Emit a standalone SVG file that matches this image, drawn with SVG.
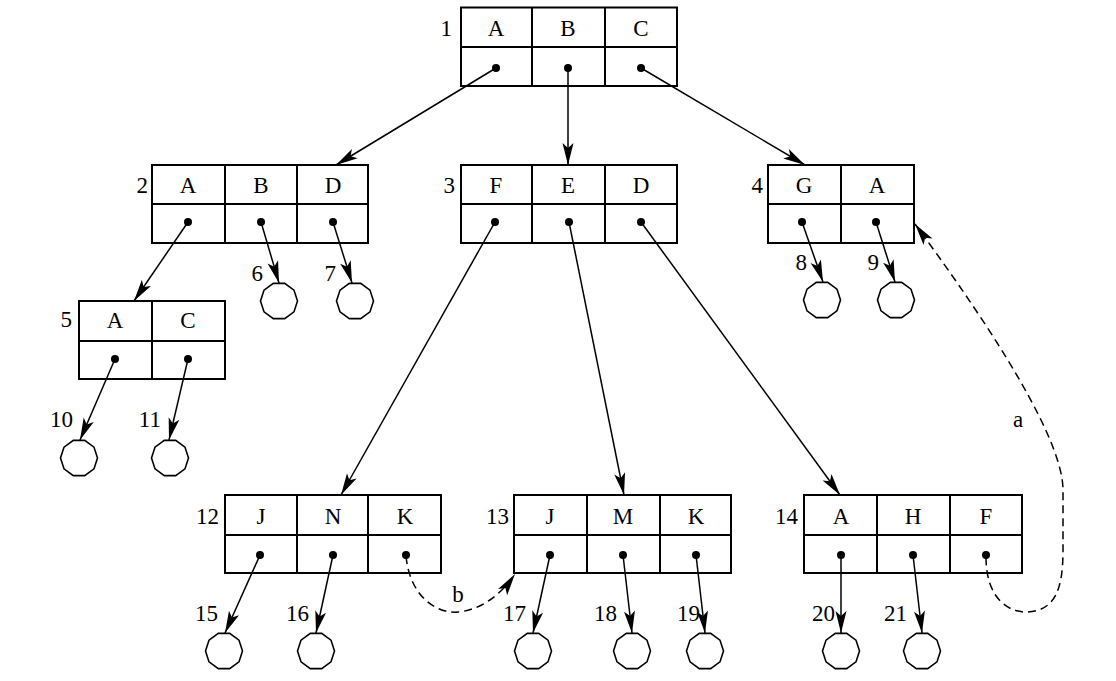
<svg xmlns="http://www.w3.org/2000/svg" xmlns:xlink="http://www.w3.org/1999/xlink" width="1116" height="681" viewBox="0 0 1116 681" font-family="Liberation Serif, Times New Roman, serif">
<style>
.box{fill:none;stroke:#000;stroke-width:2}
text{font-family:"Liberation Serif","Times New Roman",Times,serif;font-size:23px;fill:#000}
.m{text-anchor:middle}
.e{text-anchor:end}
.dot{fill:#000}
.ar{fill:none;stroke:#000;stroke-width:1.5;marker-end:url(#ah)}
.da{fill:none;stroke:#000;stroke-width:1.5;stroke-dasharray:8 5;marker-end:url(#ah)}
.leaf{fill:#fff;stroke:#000;stroke-width:1.6}
</style>
<defs>
<marker id="ah" viewBox="-23 -7 24 14" refX="0" refY="0" markerWidth="24" markerHeight="14" markerUnits="userSpaceOnUse" orient="auto">
<path d="M0,0 L-22,-5.5 L-17,0 L-22,5.5 Z" fill="#000"/>
</marker>
<polygon id="c" class="leaf" points="18.5,0 14.97,10.88 5.72,17.59 -5.72,17.59 -14.97,10.88 -18.5,0 -14.97,-10.88 -5.72,-17.59 5.72,-17.59 14.97,-10.88"/>
</defs>
<rect width="1116" height="681" fill="#fff"/>

<g id="connectors">
<path class="ar" d="M496,68 L336,165"/>
<path class="ar" d="M568,68 L568,165"/>
<path class="ar" d="M641,68 L805,165"/>
<path class="ar" d="M188,222 L134,301"/>
<path class="ar" d="M261,222 L279,283"/>
<path class="ar" d="M333,222 L352,283"/>
<path class="ar" d="M115,359 L80,440"/>
<path class="ar" d="M188,359 L169,440"/>
<path class="ar" d="M495,222 L341,495"/>
<path class="ar" d="M569,222 L624,495"/>
<path class="ar" d="M641,222 L840,495"/>
<path class="ar" d="M802,222 L823,282"/>
<path class="ar" d="M876,222 L895,282"/>
<path class="ar" d="M260,555 L225,633"/>
<path class="ar" d="M333,555 L316,633"/>
<path class="ar" d="M550,555 L533,633"/>
<path class="ar" d="M623,555 L632,633"/>
<path class="ar" d="M696,555 L705,633"/>
<path class="ar" d="M841,555 L841,633"/>
<path class="ar" d="M913,555 L922,633"/>
<path class="da" d="M406,556 C410,598 438,614 458,612 C480,610 500,596 515,574"/>
<path class="da" d="M986,557 C986,600 1010,613 1028,612 C1055,610 1063,590 1063,550 L1063,490 C1063,430 965,292 915,224"/>
<text class="m" x="458" y="602">b</text>
<text class="m" x="1018" y="427">a</text>
</g>

<g id="n1">
<rect class="box" x="461" y="7.5" width="216" height="78.5"/>
<path class="box" d="M461,47 H677 M532,7.5 V86 M605,7.5 V86"/>
<text class="e" x="452" y="36">1</text>
<text class="m" x="496" y="36">A</text><text class="m" x="568" y="36">B</text><text class="m" x="641" y="36">C</text>
<circle class="dot" cx="496" cy="68" r="4"/><circle class="dot" cx="568" cy="68" r="4"/><circle class="dot" cx="641" cy="68" r="4"/>
</g>

<g id="n2">
<rect class="box" x="152" y="165" width="216" height="78"/>
<path class="box" d="M152,204 H368 M225,165 V243 M297,165 V243"/>
<text class="e" x="148" y="193">2</text>
<text class="m" x="188" y="193">A</text><text class="m" x="261" y="193">B</text><text class="m" x="333" y="193">D</text>
<circle class="dot" cx="188" cy="222" r="4"/><circle class="dot" cx="261" cy="222" r="4"/><circle class="dot" cx="333" cy="222" r="4"/>
</g>

<g id="n3">
<rect class="box" x="461" y="165" width="216" height="78"/>
<path class="box" d="M461,204 H677 M532,165 V243 M605,165 V243"/>
<text class="e" x="455" y="193">3</text>
<text class="m" x="496" y="193">F</text><text class="m" x="568" y="193">E</text><text class="m" x="641" y="193">D</text>
<circle class="dot" cx="495" cy="222" r="4"/><circle class="dot" cx="569" cy="222" r="4"/><circle class="dot" cx="641" cy="222" r="4"/>
</g>

<g id="n4">
<rect class="box" x="768" y="165" width="146" height="78"/>
<path class="box" d="M768,204 H914 M841,165 V243"/>
<text class="e" x="763" y="193">4</text>
<text class="m" x="804" y="193">G</text><text class="m" x="877" y="193">A</text>
<circle class="dot" cx="802" cy="222" r="4"/><circle class="dot" cx="876" cy="222" r="4"/>
</g>

<g id="n5">
<rect class="box" x="79" y="301" width="146" height="78"/>
<path class="box" d="M79,341 H225 M152,301 V379"/>
<text class="e" x="72" y="327">5</text>
<text class="m" x="115" y="328">A</text><text class="m" x="188" y="328">C</text>
<circle class="dot" cx="115" cy="359" r="4"/><circle class="dot" cx="188" cy="359" r="4"/>
</g>

<g id="n12">
<rect class="box" x="225" y="495" width="216" height="78"/>
<path class="box" d="M225,535 H441 M297,495 V573 M368,495 V573"/>
<text class="e" x="219" y="524">12</text>
<text class="m" x="261" y="524">J</text><text class="m" x="333" y="524">N</text><text class="m" x="405" y="524">K</text>
<circle class="dot" cx="260" cy="555" r="4"/><circle class="dot" cx="333" cy="555" r="4"/><circle class="dot" cx="406" cy="555" r="4"/>
</g>

<g id="n13">
<rect class="box" x="514" y="495" width="217" height="78"/>
<path class="box" d="M514,535 H731 M587,495 V573 M660,495 V573"/>
<text class="e" x="509" y="524">13</text>
<text class="m" x="550" y="524">J</text><text class="m" x="623" y="524">M</text><text class="m" x="696" y="524">K</text>
<circle class="dot" cx="550" cy="555" r="4"/><circle class="dot" cx="623" cy="555" r="4"/><circle class="dot" cx="696" cy="555" r="4"/>
</g>

<g id="n14">
<rect class="box" x="804" y="495" width="218" height="78"/>
<path class="box" d="M804,535 H1022 M877,495 V573 M950,495 V573"/>
<text class="e" x="798" y="524">14</text>
<text class="m" x="841" y="524">A</text><text class="m" x="913" y="524">H</text><text class="m" x="986" y="524">F</text>
<circle class="dot" cx="841" cy="555" r="4"/><circle class="dot" cx="913" cy="555" r="4"/><circle class="dot" cx="986" cy="555" r="4"/>
</g>

<g id="l6"><use xlink:href="#c" x="279" y="301"/><text class="e" x="263" y="281">6</text></g>
<g id="l7"><use xlink:href="#c" x="355" y="301"/><text class="e" x="336" y="281">7</text></g>
<g id="l8"><use xlink:href="#c" x="822" y="300"/><text class="e" x="807" y="270">8</text></g>
<g id="l9"><use xlink:href="#c" x="896" y="300"/><text class="e" x="879" y="270">9</text></g>
<g id="l10"><use xlink:href="#c" x="79" y="458"/><text class="e" x="73" y="427">10</text></g>
<g id="l11"><use xlink:href="#c" x="170" y="458"/><text class="e" x="161" y="427">11</text></g>
<g id="l15"><use xlink:href="#c" x="224" y="651"/><text class="e" x="218" y="621">15</text></g>
<g id="l16"><use xlink:href="#c" x="316" y="651"/><text class="e" x="309" y="621">16</text></g>
<g id="l17"><use xlink:href="#c" x="533" y="651"/><text class="e" x="526" y="621">17</text></g>
<g id="l18"><use xlink:href="#c" x="632" y="651"/><text class="e" x="617" y="621">18</text></g>
<g id="l19"><use xlink:href="#c" x="705" y="651"/><text class="e" x="700" y="621">19</text></g>
<g id="l20"><use xlink:href="#c" x="841" y="651"/><text class="e" x="835" y="621">20</text></g>
<g id="l21"><use xlink:href="#c" x="922" y="651"/><text class="e" x="907" y="621">21</text></g>
</svg>
